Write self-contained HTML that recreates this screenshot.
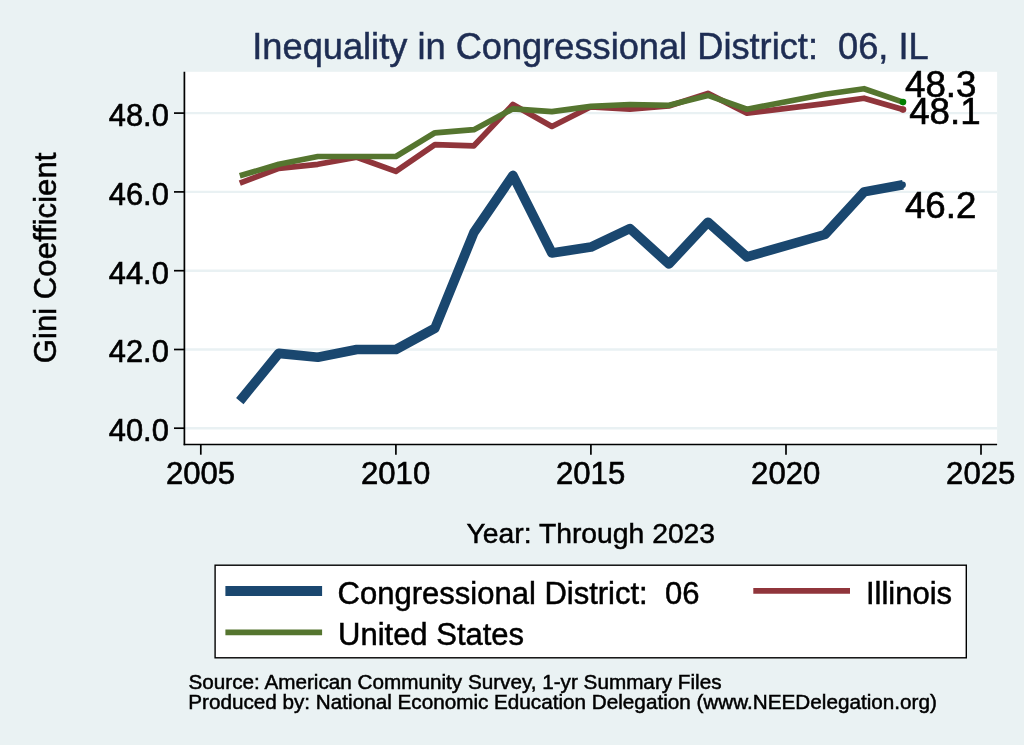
<!DOCTYPE html>
<html lang="en">
<head>
<meta charset="utf-8">
<title>Inequality in Congressional District: 06, IL</title>
<style>
html,body{margin:0;padding:0;background:#eaf2f3;}
body{width:1024px;height:745px;overflow:hidden;}
svg{display:block;font-family:"Liberation Sans",Arial,Helvetica,sans-serif;}
text{fill:#000;stroke:#000;stroke-width:0.5px;white-space:pre;}
.ax text{stroke-width:0.62px;}
</style>
</head>
<body>
<svg width="1024" height="745" viewBox="0 0 1024 745">
<rect x="0" y="0" width="1024" height="745" fill="#eaf2f3"/>
<rect x="185" y="71.8" width="812.1" height="372.7" fill="#ffffff"/>
<g stroke="#e9f1f3" stroke-width="2.4"><line x1="185" x2="997" y1="428.2" y2="428.2"/><line x1="185" x2="997" y1="349.5" y2="349.5"/><line x1="185" x2="997" y1="270.7" y2="270.7"/><line x1="185" x2="997" y1="191.9" y2="191.9"/><line x1="185" x2="997" y1="113.1" y2="113.1"/></g>
<g fill="none" stroke-linejoin="round" stroke-linecap="butt">
<polyline stroke="#1a476f" stroke-width="9.6" points="239.8,401.1 278.8,353.4 317.8,357.3 356.8,349.5 395.9,349.5 434.9,328.2 473.9,232.5 512.9,175.4 551.9,253.0 590.9,247.1 629.9,228.5 668.9,264.0 707.9,222.2 746.9,256.9 825.0,234.5 864.0,191.9 903.0,184.8"/>
<polyline stroke="#90353b" stroke-width="5.7" points="239.8,183.2 278.8,168.3 317.8,164.3 356.8,157.2 395.9,171.4 434.9,144.6 473.9,145.8 512.9,104.5 551.9,126.5 590.9,106.8 629.9,109.2 668.9,106.0 707.9,93.4 746.9,113.1 825.0,103.7 864.0,98.2 903.0,109.6"/>
<polyline stroke="#55752f" stroke-width="5.7" points="239.8,175.8 278.8,164.3 317.8,156.5 356.8,156.5 395.9,156.5 434.9,132.8 473.9,129.7 512.9,108.8 551.9,111.6 590.9,106.4 629.9,104.5 668.9,105.3 707.9,95.4 746.9,109.2 825.0,94.2 864.0,88.7 903.0,102.1"/>
</g>
<circle cx="902.5" cy="184.8" r="3.4" fill="#1a476f"/>
<circle cx="903.0" cy="109.6" r="3.3" fill="#90353b"/>
<circle cx="903.0" cy="102.1" r="3.3" fill="#008000"/>
<g stroke="#000" stroke-width="1.7">
<line x1="184.4" x2="184.4" y1="71.8" y2="445.2"/>
<line x1="183.7" x2="997.1" y1="444.5" y2="444.5"/>
<line x1="174" x2="184.4" y1="428.2" y2="428.2"/><line x1="174" x2="184.4" y1="349.5" y2="349.5"/><line x1="174" x2="184.4" y1="270.7" y2="270.7"/><line x1="174" x2="184.4" y1="191.9" y2="191.9"/><line x1="174" x2="184.4" y1="113.1" y2="113.1"/>
<line x1="200.8" x2="200.8" y1="444.5" y2="454.7"/><line x1="395.9" x2="395.9" y1="444.5" y2="454.7"/><line x1="590.9" x2="590.9" y1="444.5" y2="454.7"/><line x1="786.0" x2="786.0" y1="444.5" y2="454.7"/><line x1="981.0" x2="981.0" y1="444.5" y2="454.7"/>
</g>
<g class="ax" font-size="30.85"><text x="168.8" y="441.1" text-anchor="end">40.0</text><text x="168.8" y="362.4" text-anchor="end">42.0</text><text x="168.8" y="283.6" text-anchor="end">44.0</text><text x="168.8" y="204.8" text-anchor="end">46.0</text><text x="168.8" y="126.0" text-anchor="end">48.0</text></g><g class="ax" font-size="31.1"><text x="200.5" y="483.7" text-anchor="middle">2005</text><text x="395.6" y="483.7" text-anchor="middle">2010</text><text x="590.6" y="483.7" text-anchor="middle">2015</text><text x="785.7" y="483.7" text-anchor="middle">2020</text><text x="980.7" y="483.7" text-anchor="middle">2025</text></g>
<g class="ax" font-size="36.7">
<text x="905.0" y="96.5">48.3</text>
<text x="909.2" y="123.7">48.1</text>
<text x="904.9" y="217.6">46.2</text>
</g>
<text x="590.5" y="59.3" text-anchor="middle" font-size="36.22" style="fill:#1e2d53;stroke:#1e2d53">Inequality in Congressional District:  06, IL</text>
<text transform="translate(55.7 257.9) rotate(-90)" text-anchor="middle" font-size="31.15">Gini Coefficient</text>
<text x="590.8" y="543.3" text-anchor="middle" font-size="28.3">Year: Through 2023</text>
<rect x="215.1" y="565.2" width="751.2" height="92.6" fill="#ffffff" stroke="#000" stroke-width="1.4"/>
<g fill="none">
<line x1="225.4" x2="322.1" y1="591" y2="591" stroke="#1a476f" stroke-width="9.8"/>
<line x1="753.3" x2="850" y1="590.9" y2="590.9" stroke="#90353b" stroke-width="5.8"/>
<line x1="225.4" x2="322.1" y1="632.3" y2="632.3" stroke="#55752f" stroke-width="5.8"/>
</g>
<g font-size="31">
<text x="337.6" y="603.7">Congressional District:  06</text>
<text x="865.9" y="603.8">Illinois</text>
<text x="338" y="644.7">United States</text>
</g>
<g font-size="20.7">
<text x="188.5" y="688.6">Source: American Community Survey, 1-yr Summary Files</text>
<text x="188.2" y="708.7">Produced by: National Economic Education Delegation (www.NEEDelegation.org)</text>
</g>
</svg>
</body>
</html>
